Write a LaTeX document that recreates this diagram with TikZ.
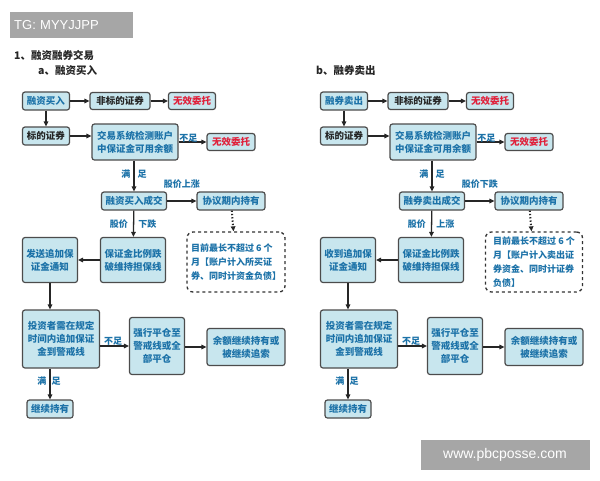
\documentclass[tikz,border=0pt]{standalone}
\usepackage{fontspec}
\setmainfont{Noto Sans CJK SC}
\setsansfont{Liberation Sans}
\usetikzlibrary{arrows.meta}
\definecolor{bx}{HTML}{C8E6EE}
\definecolor{tx}{HTML}{1C72A8}
\definecolor{rd}{HTML}{E0203A}
\begin{document}
\begin{tikzpicture}[x=1pt,y=-1pt,
 b/.style={draw=black!70,line width=1.2pt,fill=bx,rounded corners=2.5pt,text=tx,font=\bfseries\fontsize{9.5}{13}\selectfont,inner sep=2pt,align=center},
 r/.style={b,text=rd},
 k/.style={b,text=black!85},
 d/.style={draw=black!80,dashed,line width=1.3pt,rounded corners=6pt,text=tx,font=\bfseries\fontsize{9}{14}\selectfont,align=left,minimum width=97pt,inner sep=4pt},
 l/.style={text=tx,font=\bfseries\fontsize{9}{10}\selectfont,inner sep=0pt},
 a/.style={-{Triangle[length=5pt,width=4.5pt]},line width=1.3pt,black!85},
 t/.style={font=\bfseries\fontsize{10.5}{12}\selectfont,text=black!85,anchor=west,inner sep=0}]
\useasboundingbox (0,0) rectangle (600,480);
\fill[white] (0,0) rectangle (600,480);
\node[fill=black!35,text=white,font=\sffamily\fontsize{13}{14}\selectfont,minimum width=123pt,minimum height=26pt,anchor=north west,inner sep=0,align=left,text width=115pt] (tg) at (10,12) {TG: MYYJJPP};
\node[fill=black!35,text=white,font=\sffamily\fontsize{14}{15}\selectfont,minimum width=169pt,minimum height=30pt,inner sep=0] (wm) at (505,455) {www.pbcposse.com};
\node[t] (h1) at (14,55) {1、融资融券交易};
\node[t] (ha) at (38,71) {a、融资买入};
\node[t] (hb) at (316,71) {b、融券卖出};
\foreach \s/\ox/\A/\B/\C/\U/\D/\E in {L/0/融资买入/融资买入成交/股价上涨/下跌/发送追加保\\证金通知/{目前最长不超过 6 个\\月【账户计入所买证\\券、同时计资金负债】},
 R/298/融券卖出/融券卖出成交/股价下跌/上涨/收到追加保\\证金通知/{目前最长不超过 6 个\\月【账户计入卖出证\\券资金、同时计证券\\负债】}}{
 \begin{scope}[xshift=\ox pt]
 \node[b,minimum width=47pt,minimum height=18pt] (\s1) at (46,101) {\A};
 \node[k,minimum width=60pt,minimum height=17pt] (\s2) at (120,101) {非标的证券};
 \node[r,minimum width=47pt,minimum height=17pt] (\s3) at (192,101) {无效委托};
 \node[k,minimum width=47pt,minimum height=18pt] (\s4) at (46,136) {标的证券};
 \node[b,minimum width=86pt,minimum height=36pt] (\s5) at (135,142) {交易系统检测账户\\中保证金可用余额};
 \node[r,minimum width=48pt,minimum height=17pt] (\s6) at (231,142) {无效委托};
 \node[b,minimum width=65pt,minimum height=18pt] (\s7) at (134,201) {\B};
 \node[b,minimum width=68pt,minimum height=18pt] (\s8) at (231,201) {协议期内持有};
 \node[b,minimum width=65pt,minimum height=45pt] (\s9) at (133,260) {保证金比例跌\\破维持担保线};
 \node[b,minimum width=55pt,minimum height=45pt] (\s10) at (50,260) {\D};
 \node[d,minimum height=60pt] (\s11) at (236,262) {\E};
 \node[b,minimum width=77pt,minimum height=58pt] (\s12) at (61,339) {投资者需在规定\\时间内追加保证\\金到警戒线};
 \node[b,minimum width=55pt,minimum height=57pt] (\s13) at (157,346) {强行平仓至\\警戒线或全\\部平仓};
 \node[b,minimum width=78pt,minimum height=37pt] (\s14) at (246,347) {余额继续持有或\\被继续追索};
 \node[b,minimum width=46pt,minimum height=18pt] (\s15) at (50,409) {继续持有};
 \draw[a] (\s1) -- (\s2); \draw[a] (\s2) -- (\s3);
 \draw[a] (\s1) -- (\s4); \draw[a] (\s4.east) -- (\s4.east-|\s5.west);
 \draw[a] (\s5.east|-\s6) -- node[l,above,pos=0.35,yshift=-1pt]{不足} (\s6);
 \draw[a] (\s5.south-|\s7) -- node[l,right=3pt,pos=0.45]{足} node[l,left=3pt,pos=0.45]{满} (\s7);
 \draw[a] (\s7) -- node[l,above=12pt]{\C} (\s8);
 \draw[a,dotted,line width=2pt] (\s8) -- (\s11);
 \draw[a] (\s7) -- node[l,right=4pt]{\U} node[l,left=5pt]{股价} (\s9);
 \draw[a] (\s9) -- (\s10);
 \draw[a] (\s10) -- (\s10|-\s12.north);
 \draw[a] (\s12.east|-\s13) -- node[l,above,pos=0.45]{不足} (\s13);
 \draw[a] (\s13.east|-\s14) -- (\s14);
 \draw[a] (\s12.south-|\s15) -- node[l,pos=0.4,right=1pt]{足} node[l,pos=0.4,left=3pt]{满} (\s15);
 \end{scope}}
\end{tikzpicture}
\end{document}
